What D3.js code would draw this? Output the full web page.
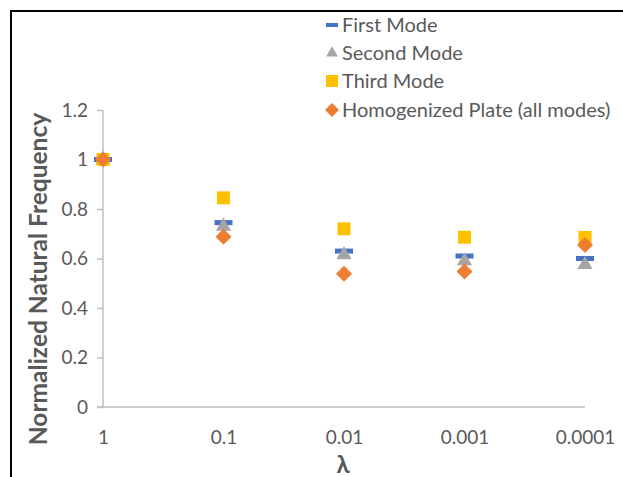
<!DOCTYPE html>
<html><head><meta charset="utf-8">
<script src="https://cdn.jsdelivr.net/npm/d3@7"></script>
<style>body{margin:0;background:#fff}svg{display:block}</style>
</head><body>
<svg id="c" width="623" height="477"></svg>
<script>
const lambdas = [1, 0.1, 0.01, 0.001, 0.0001];
const lambdaLabels = ["1", "0.1", "0.01", "0.001", "0.0001"];
const firstMode = [1.0, 0.745, 0.63, 0.61, 0.60];
const secondMode = [1.0, 0.73, 0.615, 0.59, 0.575];
const thirdMode = [1.0, 0.845, 0.72, 0.686, 0.685];
const homogenized = [1.0, 0.688, 0.538, 0.547, 0.655];
const yTicks = [0, 0.2, 0.4, 0.6, 0.8, 1, 1.2];
const seriesNames = ["First Mode", "Second Mode", "Third Mode", "Homogenized Plate (all modes)"];

const svg = d3.select("#c");
const font = "Lato, 'Open Sans', sans-serif";
const txt = "#595959";

// outer border
svg.append("rect").attr("x", 11).attr("y", 11).attr("width", 640).attr("height", 500)
  .attr("fill", "none").attr("stroke", "#000").attr("stroke-width", 2);

const x = d3.scaleLog().domain([1, 0.0001]).range([103, 585]);
const y = d3.scaleLinear().domain([0, 1.2]).range([407, 110]);

// y axis
const ya = svg.append("g").attr("transform", "translate(103,0)")
  .call(d3.axisLeft(y).tickValues(yTicks).tickSize(6).tickPadding(9)
    .tickFormat(d => d3.format("")(+d.toFixed(1))));
ya.select(".domain").attr("stroke", "#BFBFBF").attr("stroke-width", 1.5).attr("d", "M0,110V407");
ya.selectAll(".tick line").attr("stroke", "#BFBFBF").attr("stroke-width", 1.5);
ya.selectAll(".tick text").attr("fill", txt).attr("font-family", font).attr("font-size", 19);

// x axis
const xa = svg.append("g").attr("transform", "translate(0,407)")
  .call(d3.axisBottom(x).tickValues(lambdas).tickSize(0).tickPadding(24)
    .tickFormat((d, i) => lambdaLabels[i]));
xa.select(".domain").attr("stroke", "#BFBFBF").attr("stroke-width", 1.5).attr("d", "M97,0H585");
xa.selectAll(".tick text").attr("fill", txt).attr("font-family", font).attr("font-size", 19);

// axis titles
svg.append("text").attr("transform", "translate(47,279) rotate(-90)")
  .attr("text-anchor", "middle").attr("font-family", font).attr("font-weight", "bold")
  .attr("font-size", 24.5).attr("fill", txt).text("Normalized Natural Frequency");
svg.append("text").attr("x", 343).attr("y", 473).attr("text-anchor", "middle")
  .attr("font-family", font).attr("font-weight", "bold").attr("font-size", 24)
  .attr("fill", txt).text("λ");

// markers
const sym = {
  dash: (g) => g.append("rect").attr("x", -9).attr("y", -2.5).attr("width", 18).attr("height", 5).attr("fill", "#4472C4"),
  tri: (g) => g.append("path").attr("d", d3.symbol(d3.symbolTriangle, 100)()).attr("fill", "#A5A5A5"),
  sq: (g) => g.append("rect").attr("x", -6.5).attr("y", -6.5).attr("width", 13).attr("height", 13).attr("fill", "#FFC000"),
  dia: (g) => g.append("path").attr("d", "M0,-8L8,0L0,8L-8,0Z").attr("fill", "#ED7D31")
};
const series = [
  {vals: firstMode, s: "dash"},
  {vals: secondMode, s: "tri"},
  {vals: thirdMode, s: "sq"},
  {vals: homogenized, s: "dia"}
];
series.forEach(se => {
  se.vals.forEach((v, i) => {
    const g = svg.append("g").attr("transform", `translate(${x(lambdas[i])},${y(v)})`);
    sym[se.s](g);
  });
});

// legend
const legY = [25, 53, 81, 110];
series.forEach((se, i) => {
  const g = svg.append("g").attr("transform", `translate(332,${legY[i]})`);
  if (se.s === "dash") g.append("rect").attr("x", -6).attr("y", -2).attr("width", 12).attr("height", 4).attr("fill", "#4472C4");
  if (se.s === "tri") g.append("path").attr("d", d3.symbol(d3.symbolTriangle, 60)()).attr("fill", "#A5A5A5");
  if (se.s === "sq") g.append("rect").attr("x", -6).attr("y", -6).attr("width", 12).attr("height", 12).attr("fill", "#FFC000");
  if (se.s === "dia") g.append("path").attr("d", "M0,-7L7,0L0,7L-7,0Z").attr("fill", "#ED7D31");
  svg.append("text").attr("x", 342).attr("y", legY[i] + 7).attr("font-family", font)
    .attr("font-size", 20).attr("fill", txt).text(seriesNames[i]);
});
</script>
</body></html>
